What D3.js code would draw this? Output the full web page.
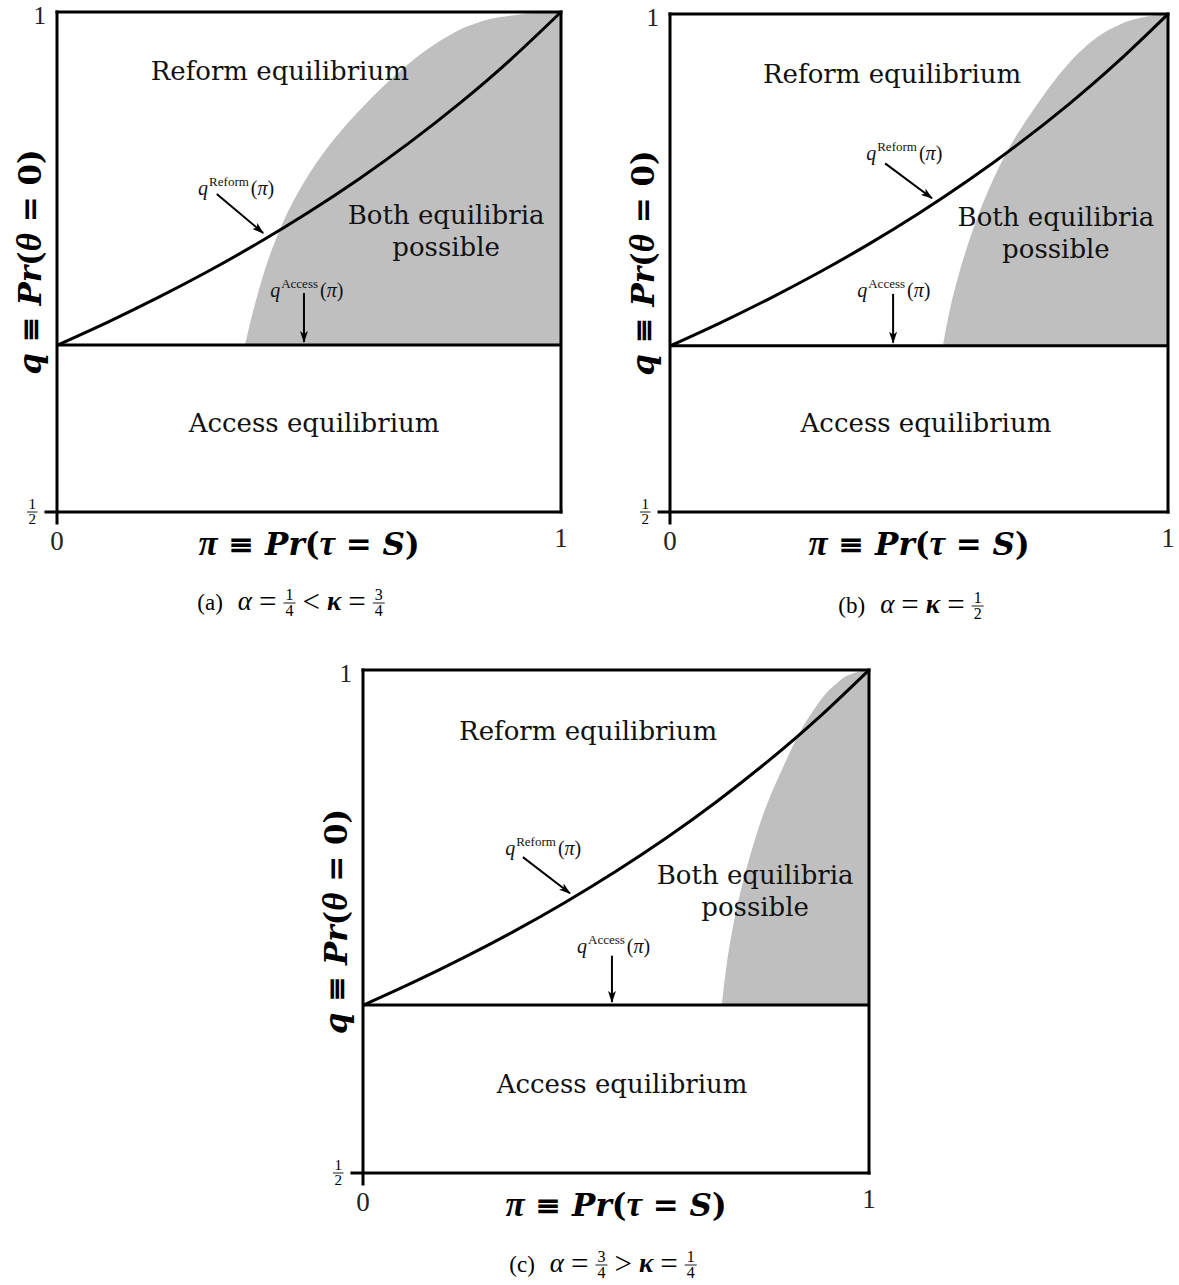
<!DOCTYPE html>
<html>
<head>
<meta charset="utf-8">
<script src="https://cdn.jsdelivr.net/npm/d3@7"></script>
<style>
  body { margin: 0; background: #fff; }
  svg { display: block; }
</style>
</head>
<body>
<svg id="chart" width="1179" height="1285"></svg>
<script>
// --- values ---
const panelIds = ['a', 'b', 'c'];

// q^Reform(pi), same curve in every panel
const reformPi = [0, 0.1, 0.2, 0.3, 0.4, 0.5, 0.6, 0.7, 0.8, 0.9, 1];
const reformQ  = [0.6667, 0.6897, 0.7143, 0.7407, 0.7692, 0.8000, 0.8333, 0.8696, 0.9091, 0.9524, 1.0];

// q^Access(pi), flat line
const accessQ = [0.667, 0.667, 0.667];

// left edge of the grey "both equilibria" zone
const boundaryQ   = [0.667, 0.712, 0.762, 0.812, 0.862, 0.912, 0.937, 0.962, 0.975, 0.987, 0.995, 1.0];
const boundaryPiA = [0.373, 0.395, 0.426, 0.470, 0.533, 0.620, 0.672, 0.733, 0.773, 0.822, 0.880, 0.960];
const boundaryPiB = [0.548, 0.566, 0.594, 0.630, 0.677, 0.741, 0.778, 0.823, 0.853, 0.893, 0.935, 0.985];
const boundaryPiC = [0.709, 0.720, 0.738, 0.763, 0.795, 0.838, 0.862, 0.893, 0.912, 0.937, 0.960, 0.990];
const boundaryPi  = [boundaryPiA, boundaryPiB, boundaryPiC];

const xTickLabels = ['0', '1'];
const yTickLabels = ['1/2', '1'];

const captionA = ['(a)', 'α', '=', '1/4', '<', 'κ', '=', '3/4'];
const captionB = ['(b)', 'α', '=', 'κ', '=', '1/2'];
const captionC = ['(c)', 'α', '=', '3/4', '>', 'κ', '=', '1/4'];
const captions = [captionA, captionB, captionC];

// --- layout (pixel boxes + label anchors in data space) ---
const layout = [
  { left: 57,  top: 12,  w: 504, h: 500, capX: 291, capY: 610 },
  { left: 670, top: 14,  w: 498, h: 498, capX: 911, capY: 613 },
  { left: 363, top: 670, w: 506, h: 503, capX: 603, capY: 1272 }
];
const labels = [
  { reform: [0.442, 0.932], both: [0.772, 0.788], access: [0.51, 0.58],
    qR: [0.28, 0.817], qRArrow: [[0.317, 0.818], [0.409, 0.779]],
    qA: [0.423, 0.715], qAArrow: [0.49, 0.719, 0.670] },
  { reform: [0.446, 0.931], both: [0.775, 0.787], access: [0.514, 0.58],
    qR: [0.394, 0.853], qRArrow: [[0.432, 0.850], [0.526, 0.815]],
    qA: [0.376, 0.716], qAArrow: [0.448, 0.719, 0.670] },
  { reform: [0.445, 0.930], both: [0.775, 0.787], access: [0.512, 0.58],
    qR: [0.281, 0.816], qRArrow: [[0.316, 0.814], [0.409, 0.778]],
    qA: [0.423, 0.719], qAArrow: [0.492, 0.716, 0.670] }
];

const serif = "'Liberation Serif', 'DejaVu Serif', serif";
const wide = "'DejaVu Serif', serif";
const grey = '#bfbfbf';

const svg = d3.select('#chart');
svg.append('rect').attr('width', 1179).attr('height', 1285).attr('fill', '#fff');

svg.append('defs').append('marker')
    .attr('id', 'arrow')
    .attr('viewBox', '0 0 12 8')
    .attr('refX', 11).attr('refY', 4)
    .attr('markerWidth', 12).attr('markerHeight', 8)
    .attr('markerUnits', 'userSpaceOnUse')
    .attr('orient', 'auto')
  .append('path')
    .attr('d', 'M0,0 L12,4 L0,8 L3,4 Z')
    .attr('fill', '#000');

// small stacked fraction, returns its width
function fraction(g, x, y, num, den, size, pad = 1.5) {
  const fg = g.append('g').attr('font-family', serif).attr('font-size', size);
  const n = fg.append('text').attr('x', x).attr('y', y - 3).text(num);
  const d = fg.append('text').attr('x', x).attr('y', y + size * 0.8).text(den);
  const w = Math.max(n.node().getComputedTextLength(), d.node().getComputedTextLength()) + pad * 2;
  n.attr('x', x + w / 2).attr('text-anchor', 'middle');
  d.attr('x', x + w / 2).attr('text-anchor', 'middle');
  fg.append('line').attr('x1', x).attr('x2', x + w).attr('y1', y).attr('y2', y)
    .attr('stroke', '#000').attr('stroke-width', 0.9);
  return w;
}

function drawCaption(parts, cx, cy) {
  const g = svg.append('g');
  let x = 0;
  parts.forEach((p, i) => {
    if (i > 0) x += (i === 1) ? 15 : 7;
    if (p.includes('/')) {
      const [a, b] = p.split('/');
      x += fraction(g, x, cy - 7, a, b, 16, 2);
    } else {
      const greek = /[ακ]/.test(p);
      const rel = /[=<>]/.test(p);
      const t = g.append('text')
          .attr('x', x).attr('y', rel ? cy + 2 : cy)
          .attr('font-family', serif)
          .attr('font-size', greek ? 27 : rel ? 31 : 23)
          .attr('font-style', greek ? 'italic' : 'normal')
          .attr('font-weight', p === 'κ' ? 'bold' : 'normal')
          .text(p);
      x += t.node().getComputedTextLength();
    }
  });
  g.attr('transform', `translate(${cx - x / 2},0)`);
}

// bold math title: [text, italic, greek]
function mathTitle(t, parts) {
  parts.forEach(([s, it, gr]) => t.append('tspan')
      .attr('font-style', it ? 'italic' : 'normal')
      .attr('font-family', gr ? serif : null)
      .attr('font-size', gr ? 35 : null)
      .text(s));
}

panelIds.forEach((id, i) => {
  const L = layout[i];
  const lab = labels[i];
  const x = d3.scaleLinear().domain([0, 1]).range([L.left, L.left + L.w]);
  const y = d3.scaleLinear().domain([0.5, 1]).range([L.top + L.h, L.top]);
  const g = svg.append('g').attr('class', 'panel-' + id);

  // grey zone
  const edge = boundaryQ.map((q, k) => [boundaryPi[i][k], q]);
  const edgeLine = d3.line().x(d => x(d[0])).y(d => y(d[1])).curve(d3.curveMonotoneY);
  g.append('path')
      .attr('d', edgeLine(edge) + `L${x(1)},${y(1)}L${x(1)},${y(accessQ[i])}Z`)
      .attr('fill', grey);

  // reform curve
  const reform = reformPi.map((p, k) => [p, reformQ[k]]);
  g.append('path')
      .attr('d', d3.line().x(d => x(d[0])).y(d => y(d[1])).curve(d3.curveNatural)(reform))
      .attr('fill', 'none').attr('stroke', '#000').attr('stroke-width', 3);

  // access line
  g.append('line')
      .attr('x1', x(0)).attr('x2', x(1))
      .attr('y1', y(accessQ[i])).attr('y2', y(accessQ[i]))
      .attr('stroke', '#000').attr('stroke-width', 3);

  // frame
  const frame = g.append('g').attr('stroke', '#000').attr('stroke-width', 3)
      .attr('stroke-linecap', 'square');
  frame.append('line').attr('x1', x(0) - 11).attr('x2', x(1)).attr('y1', y(0.5)).attr('y2', y(0.5));
  frame.append('line').attr('x1', x(0)).attr('x2', x(0)).attr('y1', y(1)).attr('y2', y(0.5) + 11);
  frame.append('line').attr('x1', x(0)).attr('x2', x(1)).attr('y1', y(1)).attr('y2', y(1));
  frame.append('line').attr('x1', x(1)).attr('x2', x(1)).attr('y1', y(1)).attr('y2', y(0.5));

  // tick labels
  const tick = g.append('g').attr('font-family', serif).attr('font-size', 27).attr('fill', '#222');
  tick.append('text').attr('x', x(0)).attr('y', y(0.5) + 38)
      .attr('text-anchor', 'middle').text(xTickLabels[0]);
  tick.append('text').attr('x', x(1)).attr('y', y(0.5) + 35)
      .attr('text-anchor', 'middle').text(xTickLabels[1]);
  tick.append('text').attr('x', x(0) - 11).attr('y', y(1) + 12)
      .attr('font-size', 25).attr('text-anchor', 'end').text(yTickLabels[1]);
  const [fn, fd] = yTickLabels[0].split('/');
  fraction(g, x(0) - 30, y(0.5), fn, fd, 15);

  // axis titles
  const xt = g.append('text')
      .attr('x', x(0.5)).attr('y', y(0.5) + 43)
      .attr('text-anchor', 'middle')
      .attr('font-family', wide).attr('font-size', 31).attr('font-weight', 'bold');
  mathTitle(xt, [['π', 1, 1], [' ≡ ', 0], ['Pr', 1], ['(', 0], ['τ', 1, 1], [' = ', 0], ['S', 1], [')', 0]]);

  const yt = g.append('text')
      .attr('transform', `translate(${x(0) - 16},${y(0.75)}) rotate(-90)`)
      .attr('text-anchor', 'middle')
      .attr('font-family', wide).attr('font-size', 31).attr('font-weight', 'bold');
  mathTitle(yt, [['q', 1], [' ≡ ', 0], ['Pr', 1], ['(', 0], ['θ', 1, 1], [' = ', 0], ['0', 0], [')', 0]]);

  // region labels
  const rl = g.append('g').attr('font-family', wide).attr('font-size', 26)
      .attr('text-anchor', 'middle').attr('fill', '#111');
  rl.append('text').attr('x', x(lab.reform[0])).attr('y', y(lab.reform[1])).text('Reform equilibrium');
  rl.append('text').attr('x', x(lab.both[0])).attr('y', y(lab.both[1])).text('Both equilibria');
  rl.append('text').attr('x', x(lab.both[0])).attr('y', y(lab.both[1]) + 32).text('possible');
  rl.append('text').attr('x', x(lab.access[0])).attr('y', y(lab.access[1])).text('Access equilibrium');

  // curve annotations
  function curveLabel(px, py, sup) {
    const t = g.append('text').attr('x', px).attr('y', py)
        .attr('font-family', serif).attr('font-size', 20).attr('fill', '#111');
    t.append('tspan').attr('font-style', 'italic').text('q');
    t.append('tspan').attr('font-size', 13).attr('dy', -9).attr('dx', 1).text(sup);
    t.append('tspan').attr('dy', 9).attr('dx', 2).text('(');
    t.append('tspan').attr('font-style', 'italic').text('π');
    t.append('tspan').text(')');
  }
  curveLabel(x(lab.qR[0]), y(lab.qR[1]), 'Reform');
  curveLabel(x(lab.qA[0]), y(lab.qA[1]), 'Access');

  g.append('line')
      .attr('x1', x(lab.qRArrow[0][0])).attr('y1', y(lab.qRArrow[0][1]))
      .attr('x2', x(lab.qRArrow[1][0])).attr('y2', y(lab.qRArrow[1][1]))
      .attr('stroke', '#000').attr('stroke-width', 2).attr('marker-end', 'url(#arrow)');
  g.append('line')
      .attr('x1', x(lab.qAArrow[0])).attr('y1', y(lab.qAArrow[1]))
      .attr('x2', x(lab.qAArrow[0])).attr('y2', y(lab.qAArrow[2]))
      .attr('stroke', '#000').attr('stroke-width', 2).attr('marker-end', 'url(#arrow)');

  drawCaption(captions[i], L.capX, L.capY);
});
</script>
</body>
</html>
